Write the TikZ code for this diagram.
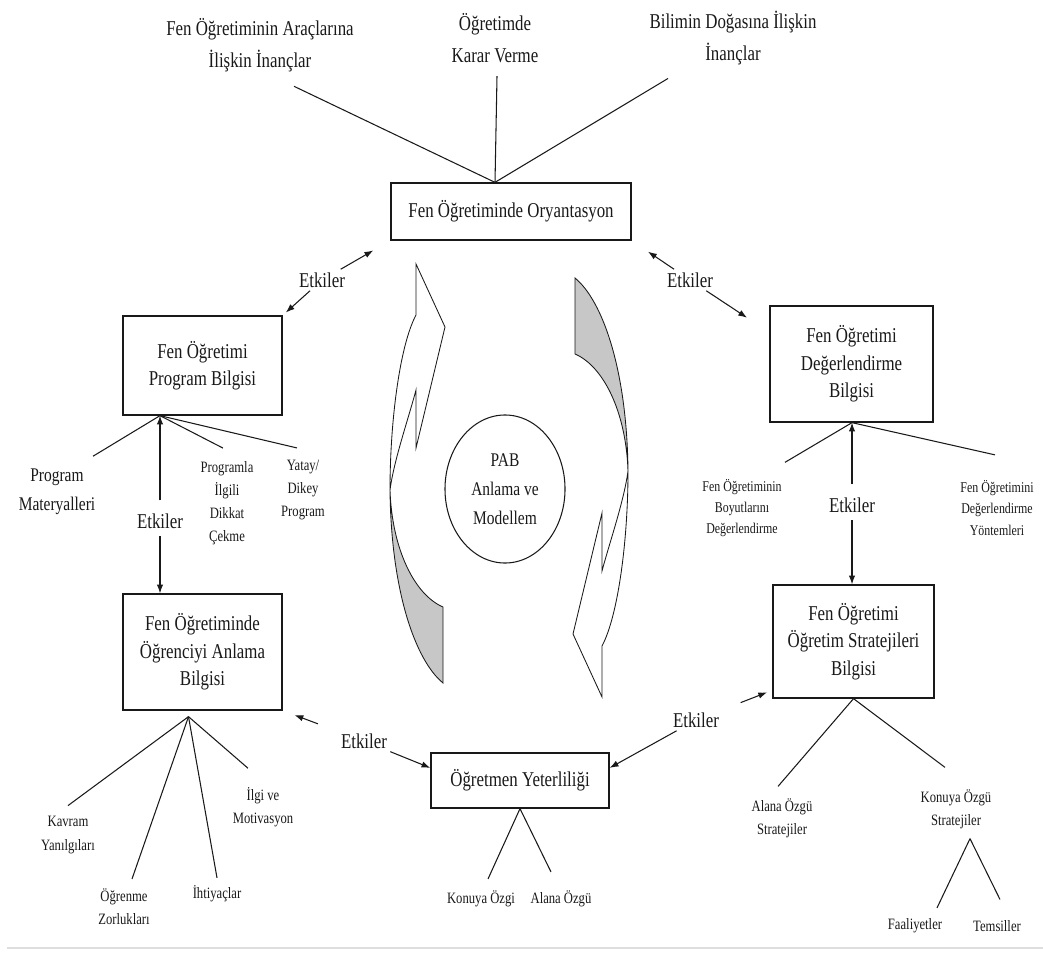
\documentclass[tikz,border=0pt]{standalone}
\usepackage{fontspec}
\setmainfont{Liberation Serif}[FakeStretch=0.8]
\usetikzlibrary{arrows.meta,shapes.geometric}

\begin{document}
\begin{tikzpicture}[x=0.025cm, y=-0.025cm, line width=0.75pt, color=black!90,
  box/.style={draw,align=center,font=\fontsize{15}{19.5}\selectfont,line width=0.9pt,inner sep=3pt},
  toplbl/.style={align=center,font=\fontsize{15}{23}\selectfont,inner sep=2pt},
  etk/.style={font=\fontsize{15}{18}\selectfont,inner sep=2pt},
  medlbl/.style={align=center,font=\fontsize{13.75}{20.5}\selectfont,inner sep=1pt},
  smlbl/.style={align=center,font=\fontsize{11.25}{16.5}\selectfont,inner sep=1pt},
  xslbl/.style={align=center,font=\fontsize{10.6}{15}\selectfont,inner sep=1pt},
  >={Latex[length=2.2mm,width=1.6mm]}]
\useasboundingbox (0,0) rectangle (1043,952);

% boxes
\node[box,minimum width=6cm,minimum height=1.425cm] (orient) at (511,211.5) {Fen Öğretiminde Oryantasyon};
\node[box,minimum width=3.975cm,minimum height=2.475cm] (prog) at (202.5,365.5) {Fen Öğretimi\\Program Bilgisi};
\node[box,minimum width=4.075cm,minimum height=2.9cm] (assess) at (851.5,364) {Fen Öğretimi\\Değerlendirme\\Bilgisi};
\node[box,minimum width=3.975cm,minimum height=2.9cm] (learner) at (202.5,652) {Fen Öğretiminde\\Öğrenciyi Anlama\\Bilgisi};
\node[box,minimum width=4.025cm,minimum height=2.825cm] (strat) at (853.5,641.5) {Fen Öğretimi\\Öğretim Stratejileri\\Bilgisi};
\node[box,minimum width=4.45cm,minimum height=1.375cm] (compet) at (520,780.5) {Öğretmen Yeterliliği};

% centre
\node[draw,ellipse,medlbl,minimum width=3cm,minimum height=3.7cm,inner sep=0pt] (pab) at (505,489) {PAB\\Anlama ve\\Modellem};

% curved arrows
\filldraw[fill=white,line width=0.6pt] (416,264) -- (445,327) -- (416,448) -- (416,390) .. controls (408,420) and (394,460) .. (390,490) .. controls (390,420) and (400,345) .. (416,315) -- cycle;
\filldraw[fill=black!22,line width=0.6pt] (390,490) .. controls (392,550) and (415,595) .. (443,607) -- (443,683) .. controls (415,660) and (391,590) .. (390,490) -- cycle;
\begin{scope}[rotate around={180:(509,480.5)}]
\filldraw[fill=white,line width=0.6pt] (416,264) -- (445,327) -- (416,448) -- (416,390) .. controls (408,420) and (394,460) .. (390,490) .. controls (390,420) and (400,345) .. (416,315) -- cycle;
\filldraw[fill=black!22,line width=0.6pt] (390,490) .. controls (392,550) and (415,595) .. (443,607) -- (443,683) .. controls (415,660) and (391,590) .. (390,490) -- cycle;
\end{scope}

% top
\node[toplbl] (tools) at (260,45) {Fen Öğretiminin Araçlarına\\İlişkin İnançlar};
\node[toplbl] (decide) at (495,38) {Öğretimde\\Karar Verme};
\node[toplbl] (nature) at (733,38) {Bilimin Doğasına İlişkin\\İnançlar};
\coordinate (ofork) at (orient.north -| decide.south);
\draw (ofork) -- ([shift={(34,11)}]tools.south);
\draw (ofork) -- ([shift={(2,10)}]decide.south);
\draw (ofork) -- ([shift={(-65,10)}]nature.south);

% Etkiler
\node[etk] (etk1) at (322,280) {Etkiler};
\node[etk] (etk2) at (690,280) {Etkiler};
\node[etk] (etk3) at (160,521) {Etkiler};
\node[etk] (etk4) at (852,505) {Etkiler};
\node[etk] (etk5) at (364,741) {Etkiler};
\node[etk] (etk6) at (696,720) {Etkiler};
\draw[->,shorten >=14pt] (etk1) -- (orient.south west);
\draw[->,shorten >=3pt] (etk1) -- (prog.north east);
\draw[->,shorten >=14pt] (etk2) -- (orient.south east);
\draw[->,shorten >=19pt] (etk2) -- (assess.159);
\draw[->,shorten <=7pt] (etk3) -- (etk3 |- prog.south);
\draw[->,shorten <=3pt] (etk3) -- (etk3 |- learner.north);
\draw[->,shorten <=7pt] (etk4) -- (etk4 |- assess.south);
\draw[->,shorten <=3pt] (etk4) -- (etk4 |- strat.north);
\draw[->,shorten <=15pt,shorten >=9pt] (etk5) -- (learner.south east);
\draw[->] (etk5) -- (compet.172);
\draw[->,shorten <=14pt,shorten >=4pt] (etk6) -- (strat.211);
\draw[->] (etk6) -- (compet.8);

% program
\node[medlbl] (materials) at (57,492) {Program\\Materyalleri};
\node[smlbl] (attention) at (227,503) {Programla\\İlgili\\Dikkat\\Çekme};
\node[smlbl] (vertical) at (303,490) {Yatay/\\Dikey\\Program};
\coordinate (pfork) at (prog.south -| etk3);
\draw (pfork) -- ([shift={(36,-11)}]materials.north);
\draw (pfork) -- ([shift={(-4,-11)}]attention.north);
\draw (pfork) -- ([shift={(-6,-10)}]vertical.north);

% assessment
\node[xslbl] (dims) at (742,508) {Fen Öğretiminin\\Boyutlarını\\Değerlendirme};
\node[xslbl] (methods) at (997,508) {Fen Öğretimini\\Değerlendirme\\Yöntemleri};
\coordinate (afork) at (assess.south -| etk4);
\draw (afork) -- ([shift={(43,-15)}]dims.north);
\draw (afork) -- ([shift={(-2,-24)}]methods.north);

% learner
\node[smlbl] (misc) at (68,835) {Kavram\\Yanılgıları};
\node[smlbl] (diff) at (124,907) {Öğrenme\\Zorlukları};
\node[smlbl] (needs) at (217,894) {İhtiyaçlar};
\node[smlbl] (interest) at (263,807) {İlgi ve\\Motivasyon};
\coordinate (lfork) at ([shift={(-14,6)}]learner.south);
\draw (lfork) -- ([shift={(0,-9)}]misc.north);
\draw (lfork) -- ([shift={(8,-8)}]diff.north);
\draw (lfork) -- ([shift={(0,-6)}]needs.north);
\draw (lfork) -- ([shift={(-15,-17)}]interest.north);

% competence
\node[smlbl] (konu) at (481,899) {Konuya Özgi};
\node[smlbl] (alana) at (561,899) {Alana Özgü};
\draw (compet.south) -- ([shift={(7,-10)}]konu.north);
\draw (compet.south) -- ([shift={(-10,-17)}]alana.north);

% strategies
\node[smlbl] (alstr) at (782,818) {Alana Özgü\\Stratejiler};
\node[smlbl] (kostr) at (956,809) {Konuya Özgü\\Stratejiler};
\node[smlbl] (faal) at (915,926) {Faaliyetler};
\node[smlbl] (tems) at (997,926) {Temsiller};
\draw (strat.south) -- ([shift={(-4,-10)}]alstr.north);
\draw (strat.south) -- ([shift={(-11,-20)}]kostr.north);
\coordinate (kfork) at ([shift={(14,8)}]kostr.south);
\draw (kfork) -- ([shift={(22,-9)}]faal.north);
\draw (kfork) -- ([shift={(3,-19)}]tems.north);

% bottom rule
\draw[black!13,line width=1.4pt] (7,948) -- (1043,948);
\end{tikzpicture}
\end{document}
